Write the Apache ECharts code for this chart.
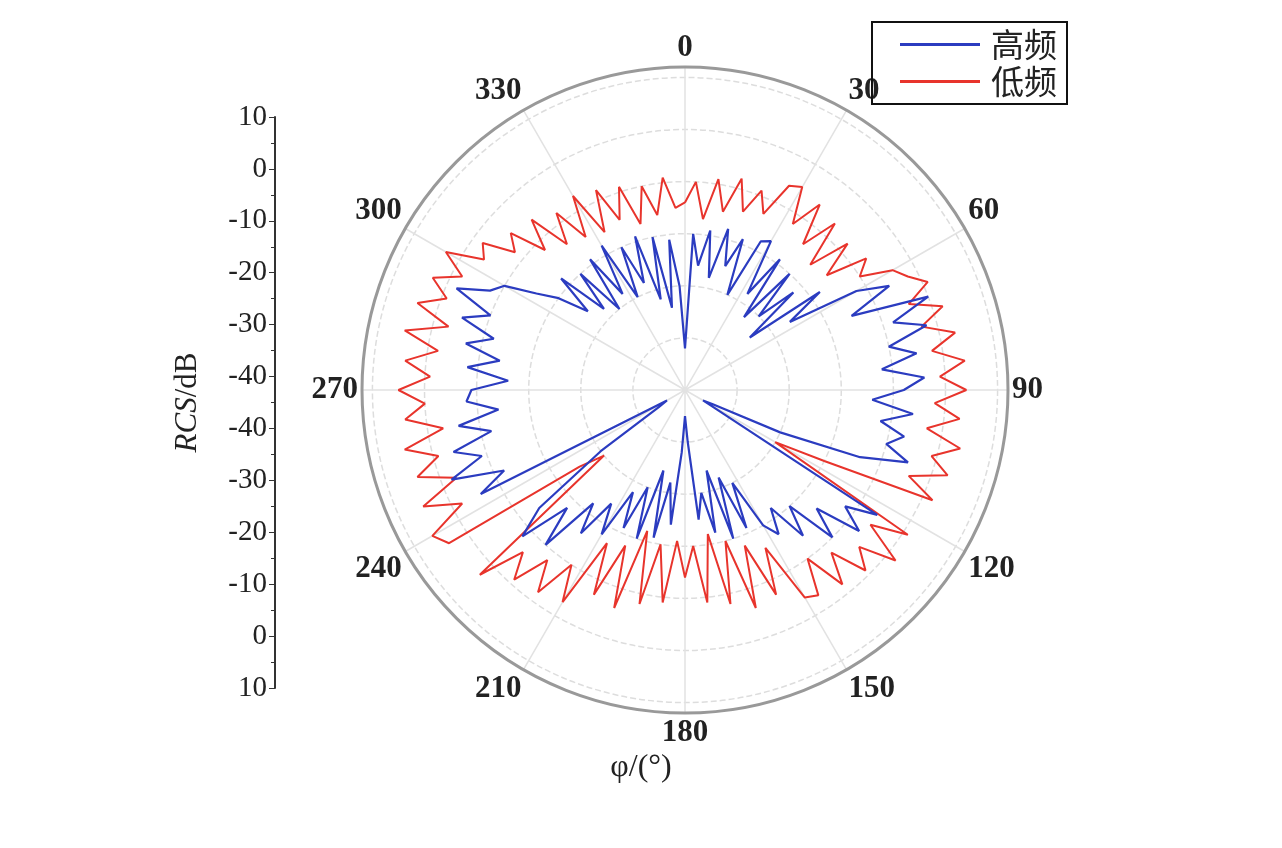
<!DOCTYPE html><html><head><meta charset="utf-8"><script src="https://cdn.jsdelivr.net/npm/echarts@6/dist/echarts.min.js"></script></head><body style="margin:0"><div id="c" style="width:1282px;height:848px"></div><script>
const angles=[];for(let a=0;a<360;a+=3)angles.push(a);
const lowFreq=[-14,-10,-17,-9,-15,-8,-14,-9,-13,-6,
-5,-12,-6,-14,-7,-16,-8,-15,-7,-10,
-4,-2,1,-4,2,-3,3,-2,4,-1,
4,-2,3,-3,4,-1,3,-4,2,-20,
-30,1,-6,2,-5,-1,-8,-2,-10,-3,
-4,-16,-7,-18,-6,-20,-8,-22,-9,-20,
-14,-21,-9,-20,-8,-22,-6,-18,-7,-17,
-3,-10,-2,-8,-1,-6,3,-30,-25,4,
6,-2,5,-3,4,-1,5,-3,4,0,
5,-1,4,-2,5,-3,4,-1,3,-2,
3,-4,-2,-8,-5,-12,-6,-14,-8,-15,
-7,-16,-8,-15,-9,-17,-10,-16,-9,-15];
const highFreq=[-42,-20,-26,-19,-28,-18,-25,-19,-30,-18,
-17,-28,-19,-32,-20,-30,-22,-34,-18,-26,
-12,-6,-15,0,-8,-2,-10,-5,-12,-4,
-8,-14,-6,-12,-7,-10,-5,-14,-30,-44,
-46,-6,-12,-7,-16,-10,-20,-14,-22,-17,
-20,-30,-21,-32,-20,-34,-22,-30,-25,-40,
-45,-38,-24,-32,-21,-34,-20,-30,-21,-28,
-18,-24,-16,-22,-10,-18,-8,-14,-30,-44,
-46,-6,-12,-2,-9,-4,-12,-6,-14,-8,
-9,-16,-8,-14,-7,-12,-5,-10,-2,-8,
-10,-16,-20,-26,-18,-28,-20,-30,-19,-28,
-18,-30,-20,-28,-19,-32,-20,-34,-21,-30];
const leftTicks=['10','0','-10','-20','-30','-40','-40','-30','-20','-10','0','10'];
const mk=v=>{const d=v.map((x,i)=>[x,angles[i]]);d.push([v[0],360]);return d;};
const font='"Liberation Serif", serif';
const ch=echarts.init(document.getElementById('c'));
ch.setOption({backgroundColor:'#fff',animation:false,
polar:{center:[685,390],radius:323},
angleAxis:{type:'value',min:0,max:360,interval:30,startAngle:90,clockwise:true,
 axisLine:{lineStyle:{color:'#999',width:3}},axisTick:{show:false},
 axisLabel:{fontFamily:font,fontSize:31,fontWeight:'bold',color:'#222',margin:4,formatter:v=>v==360?'':v},
 splitLine:{lineStyle:{color:'#e2e2e2',width:1.5}}},
radiusAxis:{min:-50,max:12,interval:10,axisLine:{show:false},axisTick:{show:false},axisLabel:{show:false},
 splitLine:{lineStyle:{color:'#ddd',type:'dashed',width:1.5}}},
grid:{left:275,top:117,height:571,width:10},
xAxis:{type:'value',show:false},
yAxis:{type:'value',min:0,max:11,interval:1,inverse:true,
 axisLine:{show:true,lineStyle:{color:'#333',width:2}},axisTick:{show:true,length:6,lineStyle:{color:'#333'}},
 minorTick:{show:true,splitNumber:2,length:4},
 splitLine:{show:false},
 axisLabel:{fontFamily:font,fontSize:29,color:'#222',margin:8,formatter:v=>leftTicks[v]},
 name:'{i|RCS}/dB',nameLocation:'middle',nameGap:72,nameRotate:90,
 nameTextStyle:{fontFamily:font,fontSize:31,color:'#222',rich:{i:{fontFamily:font,fontStyle:'italic',fontSize:31}}}},
legend:{left:872,top:22,orient:'vertical',itemWidth:80,itemHeight:3,itemGap:4,padding:[6,10,6,28],
 borderColor:'#111',borderWidth:2,icon:'rect',textStyle:{fontSize:33,color:'#222',fontFamily:'"Noto Sans CJK SC"',padding:[0,0,0,6]},data:['高频','低频']},
graphic:[{type:'text',left:'center',top:752,style:{text:'φ/(°)',font:'32px "Liberation Serif"',fill:'#222'}}],
series:[
 {name:'低频',type:'line',coordinateSystem:'polar',data:mk(lowFreq),symbol:'none',lineStyle:{color:'#e8342c',width:2},itemStyle:{color:'#e8342c'}},
 {name:'高频',type:'line',coordinateSystem:'polar',data:mk(highFreq),symbol:'none',lineStyle:{color:'#2b3cc0',width:2.2},itemStyle:{color:'#2b3cc0'}}
]});
</script></body></html>
